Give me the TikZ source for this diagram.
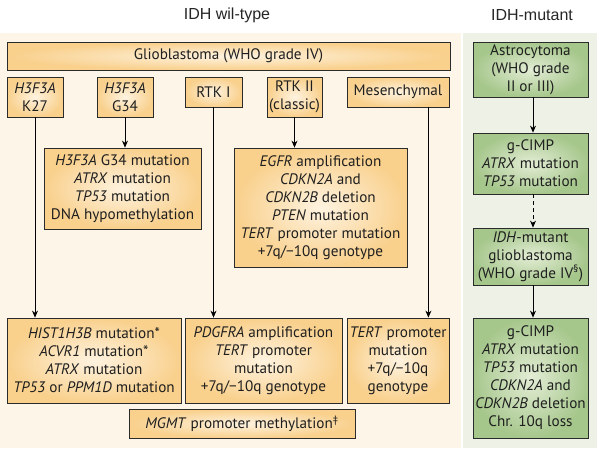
\documentclass[tikz,border=0pt]{standalone}
\usepackage{fontspec}
\setmainfont{PT Sans}
\newfontfamily\titlefont{Liberation Sans}
\usetikzlibrary{arrows.meta}
\definecolor{leftbg}{HTML}{FDF5E8}
\definecolor{rightbg}{HTML}{EDF1E6}
\definecolor{orin}{HTML}{FEF3E0}
\definecolor{orout}{HTML}{F9D08C}
\definecolor{grin}{HTML}{E3EDD5}
\definecolor{grout}{HTML}{A6C78C}
\definecolor{edge}{HTML}{2B2B2B}
\tikzset{
  box/.style={draw=edge, line width=0.8pt, inner sep=0pt, align=center,
    font=\fontsize{15.2}{18}\selectfont, text=black!88},
  obox/.style={box, shading=radial, inner color=orin, outer color=orout},
  gbox/.style={box, shading=radial, inner color=grin, outer color=grout},
  arr/.style={draw=black, line width=0.8pt, -{Stealth[length=7pt,width=6pt]}},
  ttl/.style={font=\titlefont\fontsize{16}{18}\selectfont, text=black!85}
}
\newcommand{\bx}[7]{\node[#1, minimum width=#4pt, minimum height=#5pt] (#6) at (#2,#3) {#7};}
\begin{document}
\begin{tikzpicture}[x=1pt,y=-1pt]
\useasboundingbox (0,0) rectangle (597,448);
\fill[white] (0,0) rectangle (597,448);
\fill[leftbg] (0,33) rectangle (461,448);
\fill[rightbg] (463,33) rectangle (597,448);
\node[ttl] (t1) at (227,15) {IDH wil-type};
\node[ttl] (t2) at (532,15) {IDH-mutant};
% left panel
\bx{obox}{228.5}{56}{443}{28}{glio}{Glioblastoma (WHO grade IV)}
\bx{obox}{35}{97}{56}{40}{k27}{\textit{H3F3A}\\K27}
\bx{obox}{125}{97}{56}{40}{g34}{\textit{H3F3A}\\G34}
\bx{obox}{213.5}{92}{57}{30}{rtk1}{RTK I}
\bx{obox}{294.5}{97}{55}{40}{rtk2}{RTK II\\(classic)}
\bx{obox}{398}{92}{102}{30}{mes}{Mesenchymal}
\bx{obox}{122.5}{188.5}{157}{81}{g34mut}{\textit{H3F3A} G34 mutation\\\textit{ATRX} mutation\\\textit{TP53} mutation\\DNA hypomethylation}
\bx{obox}{320.5}{207.5}{173}{119}{egfr}{\textit{EGFR} amplification\\\textit{CDKN2A} and\\\textit{CDKN2B} deletion\\\textit{PTEN} mutation\\\textit{TERT} promoter mutation\\+7q/−10q genotype}
\bx{obox}{94}{360.5}{174}{85}{hist}{\textit{HIST1H3B} mutation*\\\textit{ACVR1} mutation*\\\textit{ATRX} mutation\\\textit{TP53} or \textit{PPM1D} mutation}
\bx{obox}{263.5}{360.5}{157}{85}{pdgfra}{\textit{PDGFRA} amplification\\\textit{TERT} promoter\\mutation\\+7q/−10q genotype}
\bx{obox}{398}{360.5}{102}{85}{tert}{\textit{TERT} promoter\\mutation\\+7q/−10q\\genotype}
\bx{obox}{242}{423.5}{226}{29}{mgmt}{\textit{MGMT} promoter methylation\textsuperscript{‡}}
% right panel
\bx{gbox}{530.5}{69.5}{115}{55}{astro}{Astrocytoma\\(WHO grade\\II or III)}
\bx{gbox}{530.5}{163.5}{115}{61}{gc1}{g-CIMP\\\textit{ATRX} mutation\\\textit{TP53} mutation}
\bx{gbox}{530.5}{256.5}{115}{57}{idh}{\textit{IDH}-mutant\\glioblastoma\\(WHO grade IV\textsuperscript{§})}
\bx{gbox}{530.5}{378}{115}{120}{gc2}{g-CIMP\\\textit{ATRX} mutation\\\textit{TP53} mutation\\\textit{CDKN2A} and\\\textit{CDKN2B} deletion\\Chr. 10q loss}
% connectors
\draw[arr] (g34.south) -- (g34.south |- g34mut.north);
\draw[arr] (rtk2.south) -- (rtk2.south |- egfr.north);
\draw[arr] (k27.south) -- (k27.south |- hist.north);
\draw[arr] (rtk1.south) -- (rtk1.south |- pdgfra.north);
\coordinate (mesout) at ([xshift=-21pt]mes.south east);
\draw[arr] (mesout) -- (mesout |- tert.north);
\draw[arr] ([xshift=2.5pt]astro.south) -- ([xshift=2.5pt]astro.south |- gc1.north);
\draw[arr, dash pattern=on 4pt off 3pt] ([xshift=2.5pt]gc1.south) -- ([xshift=2.5pt]gc1.south |- idh.north);
\draw[arr] ([xshift=2.5pt]idh.south) -- ([xshift=2.5pt]idh.south |- gc2.north);
\end{tikzpicture}
\end{document}
